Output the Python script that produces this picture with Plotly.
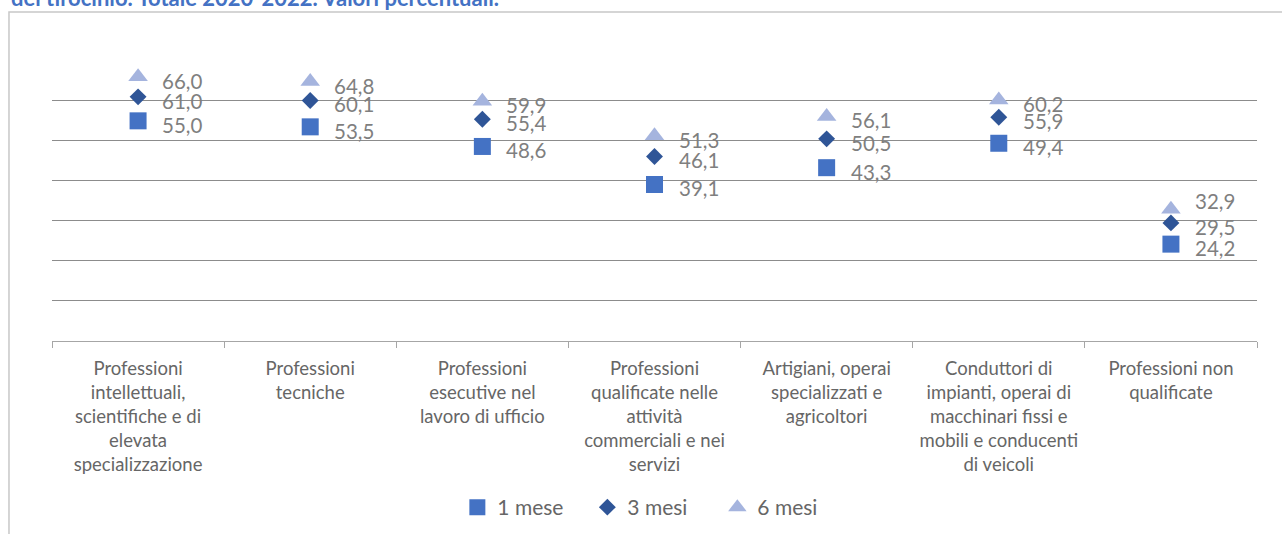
import plotly.graph_objects as go

categories = [
    "Professioni<br>intellettuali,<br>scientifiche e di<br>elevata<br>specializzazione",
    "Professioni<br>tecniche",
    "Professioni<br>esecutive nel<br>lavoro di ufficio",
    "Professioni<br>qualificate nelle<br>attività<br>commerciali e nei<br>servizi",
    "Artigiani, operai<br>specializzati e<br>agricoltori",
    "Conduttori di<br>impianti, operai di<br>macchinari fissi e<br>mobili e conducenti<br>di veicoli",
    "Professioni non<br>qualificate",
]
mese_1 = [55.0, 53.5, 48.6, 39.1, 43.3, 49.4, 24.2]
mesi_3 = [61.0, 60.1, 55.4, 46.1, 50.5, 55.9, 29.5]
mesi_6 = [66.0, 64.8, 59.9, 51.3, 56.1, 60.2, 32.9]

label_grey = '#7f7f7f'
axis_grey = '#666666'

series = [
    ("1 mese", mese_1, 'square', 17, '#4472C4'),
    ("3 mesi", mesi_3, 'diamond', 13, '#2F5597'),
    ("6 mesi", mesi_6, 'triangle-up', 17, '#A5B4DE'),
]

fig = go.Figure()
for name, vals, sym, size, col in series:
    fig.add_trace(go.Scatter(
        x=categories, y=vals, mode='markers', name=name,
        marker=dict(symbol=sym, size=size, color=col, line=dict(width=0)),
        cliponaxis=False
    ))

# data labels to the right of the markers (comma decimals)
for name, vals, sym, size, col in series:
    for cat, v in zip(categories, vals):
        shift = -4
        if name == "6 mesi" and v < 35:
            shift = 8  # label nudged up to avoid overlap
        fig.add_annotation(
            x=cat, y=v, text=f"{v:.1f}".replace('.', ','),
            showarrow=False, xanchor='left', yanchor='middle',
            xshift=22, yshift=shift,
            font=dict(family='Lato', size=20.5, color=label_grey)
        )

# cut-off title from the report page
fig.add_annotation(
    xref='paper', yref='paper', x=-0.036, y=1.169,
    xanchor='left', yanchor='bottom', showarrow=False,
    text="<b>del tirocinio. Totale 2020-2022. Valori percentuali.</b>",
    font=dict(family='Lato', size=22, color='#4472C4')
)

# chart area border
fig.add_shape(
    type='rect', xref='paper', yref='paper',
    x0=-0.0357, x1=1.03, y0=-0.75, y1=1.171,
    line=dict(color='#c8c8c8', width=1.5), fillcolor='rgba(0,0,0,0)'
)

fig.update_layout(
    width=1282, height=534,
    margin=dict(l=52, r=25, t=60, b=193),
    plot_bgcolor='white',
    paper_bgcolor='white',
    font=dict(family='Lato', color=axis_grey),
    showlegend=True,
    # legend placed in container coords so it does not push the bottom margin
    legend=dict(
        orientation='h', x=0.3364, xanchor='left',
        yref='container', y=0.088, yanchor='top',
        font=dict(family='Lato', size=21, color=axis_grey),
        bgcolor='rgba(0,0,0,0)', itemwidth=30, tracegroupgap=0,
        entrywidth=85
    )
)

fig.update_xaxes(
    type='category',
    automargin=False,
    showgrid=False,
    showline=True, linecolor='#a6a6a6', linewidth=1,
    ticks='outside', tickson='boundaries', ticklen=6, tickcolor='#a6a6a6',
    tickfont=dict(family='Lato', size=18.5, color=axis_grey),
    tickangle=0,
    ticklabelstandoff=11,
    range=[-0.5, 6.5]
)
# range a touch above 70 so the top gridline is not clipped away
fig.update_yaxes(
    automargin=False,
    range=[0, 70.2], dtick=10,
    showgrid=True, gridcolor='#8c8c8c', gridwidth=1,
    showticklabels=False, zeroline=False, showline=False, ticks=''
)

# drop the default 8px page margin so the figure sits at the window corner
fig.write_html("out.html", config={'displayModeBar': False},
               post_script="document.body.style.margin='0';")
